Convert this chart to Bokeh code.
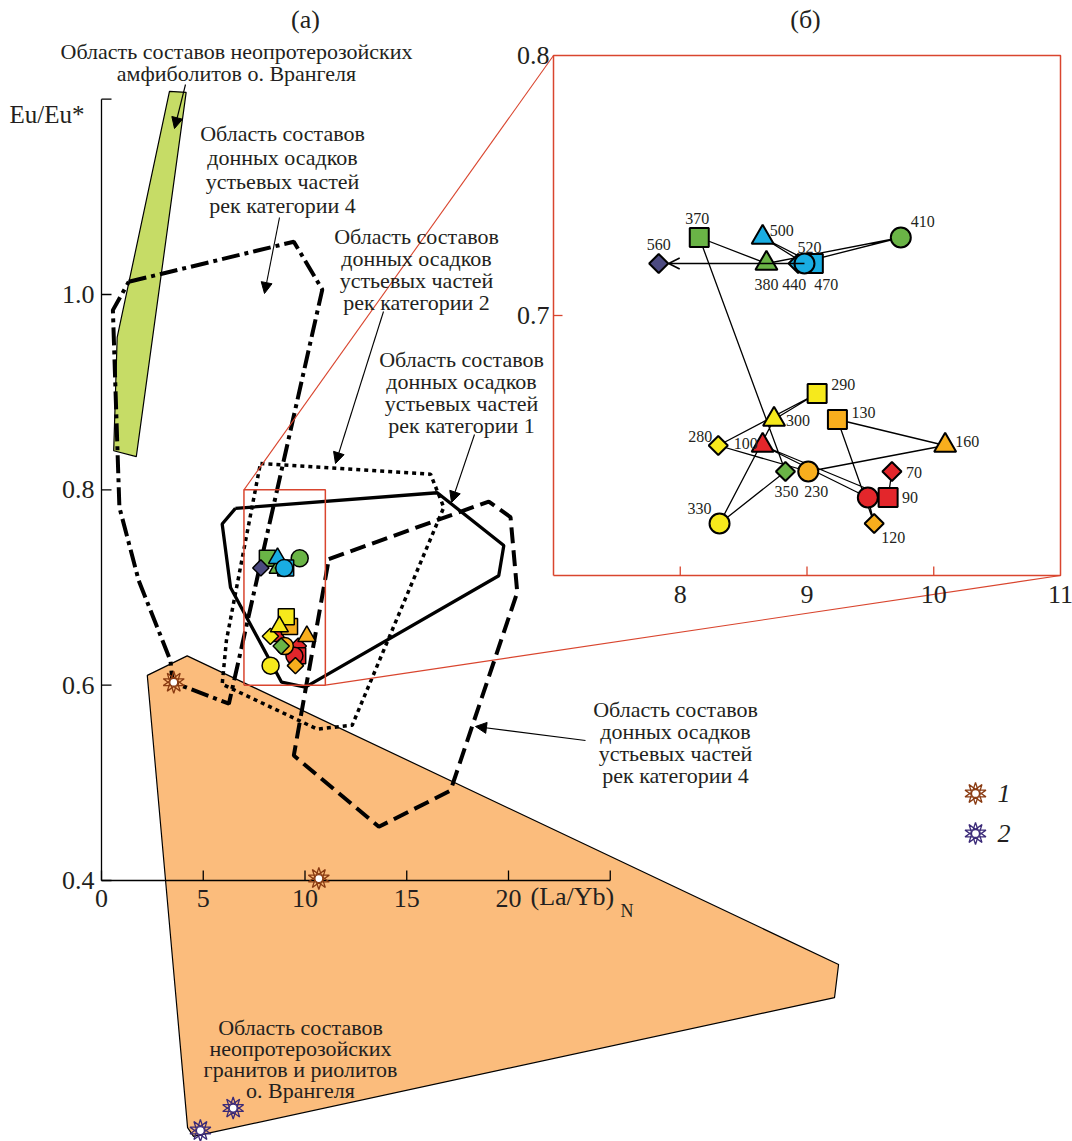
import numpy as np
from bokeh.plotting import figure
from bokeh.models import Range1d, ColumnDataSource, Arrow, NormalHead, OpenHead
from bokeh.embed import file_html
from bokeh.resources import INLINE
from bokeh.core.properties import value

# ---------------- data ----------------
sample_km = [70, 90, 100, 110, 120, 130, 160, 230, 280, 290, 300, 330,
             350, 370, 380, 410, 440, 470, 500, 520, 560]
point_labels = ["70", "90", "100", "", "120", "130", "160", "230", "280", "290", "300", "330",
                "350", "370", "380", "410", "440", "470", "500", "520", "560"]
la_yb_n = [9.67, 9.64, 8.65, 9.48, 9.53, 9.24, 10.09, 9.01, 8.30, 9.08, 8.74, 8.31,
           8.83, 8.15, 8.68, 9.74, 8.93, 9.05, 8.65, 8.98, 7.83]
eu_eu = [0.64, 0.63, 0.65, 0.63, 0.62, 0.66, 0.65, 0.64, 0.65, 0.67, 0.66, 0.62,
         0.64, 0.73, 0.72, 0.73, 0.72, 0.72, 0.73, 0.72, 0.72]
point_shape = ["diamond", "square", "triangle", "circle"] * 5 + ["diamond"]
point_group = ["red"] * 4 + ["orange"] * 4 + ["yellow"] * 4 + ["green"] * 4 + ["blue"] * 4 + ["purple"]

# region outlines (La/Yb)N, Eu/Eu*
amph_x = [3.34, 4.16, 1.71, 0.60, 0.77]
amph_y = [1.208, 1.207, 0.834, 0.840, 0.956]
granite_x = [2.25, 4.21, 36.22, 36.02, 4.52, 4.23]
granite_y = [0.610, 0.630, 0.314, 0.280, 0.138, 0.147]
cat4a_x = [1.34, 9.45, 10.85, 6.26, 3.49, 3.39, 1.83, 0.88, 0.77, 0.56]
cat4a_y = [1.013, 1.054, 1.005, 0.581, 0.603, 0.625, 0.707, 0.782, 0.850, 0.984]
cat2_x = [7.81, 16.17, 16.82, 12.32, 10.60, 5.93, 6.14]
cat2_y = [0.827, 0.816, 0.782, 0.559, 0.555, 0.601, 0.646]
cat1_x = [6.58, 16.50, 19.77, 19.52, 10.02, 8.85, 6.34, 5.93]
cat1_y = [0.781, 0.797, 0.743, 0.712, 0.598, 0.603, 0.700, 0.765]
cat4b_x = [11.17, 19.03, 20.10, 20.43, 17.15, 13.63, 9.45]
cat4b_y = [0.729, 0.788, 0.772, 0.695, 0.492, 0.455, 0.528]

# reference samples (legend 1 and 2)
ref1_x = [3.55, 10.68]
ref1_y = [0.603, 0.402]
ref2_x = [6.47, 4.86]
ref2_y = [0.167, 0.144]

main_xticks = [0, 5, 10, 15, 20, 25]
main_xticklabels = ["0", "5", "10", "15", "20", ""]
main_yticks = [0.4, 0.6, 0.8, 1.0, 1.2]
main_yticklabels = ["0.4", "0.6", "0.8", "1.0", ""]
inset_xticks = [8, 9, 10, 11]
inset_yticks = [0.7, 0.8]
zoom_box = (7.0, 11.0, 0.6, 0.8)

# ---------------- layout ----------------
W, H = 1072, 1141
M = 0  # picture origin = canvas origin
MX0, MXS = 101.0, 20.35      # px of x=0, px per unit
MY0, MYS = 880.0, 976.7      # py of y=0.4, px per unit
IX0, IXS = 553.0, 126.75     # px of inset x=7
IY0, IYS = 55.0, 2600.0      # py of inset y=0.8
FONT = "Liberation Serif"
TXT = "#231f20"

def px2x(px): return (px - MX0) / MXS
def py2y(py): return 0.4 + (MY0 - py) / MYS
def ipx2x(px): return 7.0 + (px - IX0) / IXS
def ipy2y(py): return 0.8 - (py - IY0) / IYS
def ix2px(x): return IX0 + (x - 7.0) * IXS
def iy2py(y): return IY0 + (0.8 - y) * IYS

colors = {"red": "#e3262b", "orange": "#f8ae1d", "yellow": "#f6e91c",
          "green": "#6ab446", "blue": "#19ade2", "purple": "#4c4a80"}

p = figure(width=W, height=H, output_backend="svg", toolbar_location=None,
           x_range=Range1d(px2x(M), px2x(M + W)), y_range=Range1d(py2y(M + H), py2y(M)),
           x_axis_location=None, y_axis_location=None, min_border=0,
           outline_line_color=None, background_fill_color="white")
p.min_border_left = p.min_border_right = p.min_border_top = p.min_border_bottom = 0
p.xgrid.grid_line_color = None
p.ygrid.grid_line_color = None
p.grid.visible = False
p.extra_x_ranges = {"ins": Range1d(ipx2x(M), ipx2x(M + W))}
p.extra_y_ranges = {"ins": Range1d(ipy2y(M + H), ipy2y(M))}

def closed(a):
    return list(a) + [a[0]]

# regions
p.patch(granite_x, granite_y, fill_color="#fbbc7c", line_color="black", line_width=1.2)
p.patch(amph_x, amph_y, fill_color="#c6dc66", line_color="black", line_width=1.2)
p.line(closed(cat4a_x), closed(cat4a_y), line_color="black", line_width=4, line_dash="18 5 4 5")
p.line(closed(cat2_x), closed(cat2_y), line_color="black", line_width=3.5, line_dash="4 4")
p.line(closed(cat1_x), closed(cat1_y), line_color="black", line_width=3.3)
p.line(closed(cat4b_x), closed(cat4b_y), line_color="black", line_width=4, line_dash="16 7")

# main axes (drawn at x=0 and y=0.4)
tick_len = 10
p.line([0, 0], [0.4, 1.2], line_color="black", line_width=1.3)
p.line([0, 25], [0.4, 0.4], line_color="black", line_width=1.3)
p.segment(x0=[0] * len(main_yticks), y0=main_yticks, x1=[tick_len / MXS] * len(main_yticks),
          y1=main_yticks, line_color="black", line_width=1.3)
p.segment(x0=main_xticks, y0=[0.4] * len(main_xticks), x1=main_xticks,
          y1=[0.4 + tick_len / MYS] * len(main_xticks), line_color="black", line_width=1.3)
p.text(x=main_xticks, y=[py2y(898)] * len(main_xticks), text=main_xticklabels,
       text_font=value(FONT), text_font_size="26px", text_align="center",
       text_baseline="middle", text_color=TXT)
p.text(x=[px2x(94)] * len(main_yticks), y=main_yticks, text=main_yticklabels,
       text_font=value(FONT), text_font_size="26px", text_align="right",
       text_baseline="middle", text_color=TXT)
p.text(x=[px2x(9)], y=[py2y(114)], text=["Eu/Eu*"], text_font=value(FONT),
       text_font_size="25px", text_align="left", text_baseline="middle", text_color=TXT)
p.text(x=[px2x(530)], y=[py2y(896)], text=["(La/Yb)"], text_font=value(FONT),
       text_font_size="26px", text_align="left", text_baseline="middle", text_color=TXT)
p.text(x=[px2x(620)], y=[py2y(910)], text=["N"], text_font=value(FONT),
       text_font_size="18px", text_align="left", text_baseline="middle", text_color=TXT)

# reference samples as outlined stars
def star(xs, ys, col):
    for ang in (0, np.pi):
        p.scatter(xs, ys, marker="star", size=22, angle=ang, fill_color=None,
                  line_color=col, line_width=1.3)
    p.scatter(xs, ys, marker="circle", size=8, fill_color="white", line_color=col, line_width=1.3)

star(ref1_x, ref1_y, "#8a3b12")
star(ref2_x, ref2_y, "#3b2a78")

# zoom box on main plot
zx0, zx1, zy0, zy1 = zoom_box
red = "#d9452e"
p.line([zx0, zx1, zx1, zx0, zx0], [zy0, zy0, zy1, zy1, zy0], line_color=red, line_width=1.5)
# connectors from zoom box to inset frame
p.segment(x0=[zx0, zx1], y0=[zy1, zy0],
          x1=[px2x(ix2px(zx0)), px2x(ix2px(zx1))], y1=[py2y(iy2py(zy1)), py2y(iy2py(zy0))],
          line_color=red, line_width=1.1)

# samples on main plot
shape_map = {"diamond": ("square", np.pi / 4), "square": ("square", 0.0),
             "triangle": ("triangle", 0.0), "circle": ("circle", 0.0)}
main_size = {"diamond": 11.5, "square": 16, "triangle": 18, "circle": 17}
ins_size = {"diamond": 13.5, "square": 19, "triangle": 22, "circle": 20}
src = ColumnDataSource(dict(
    x=la_yb_n, y=eu_eu, lab=point_labels,
    mk=[shape_map[s][0] for s in point_shape], ang=[shape_map[s][1] for s in point_shape],
    col=[colors[g] for g in point_group],
    msz=[main_size[s] for s in point_shape], isz=[ins_size[s] for s in point_shape]))
p.scatter(x="x", y="y", marker="mk", angle="ang", size="msz", fill_color="col",
          line_color="black", line_width=1.5, source=src)

# ---------------- inset (б) ----------------
p.line([7, 11, 11, 7, 7], [0.6, 0.6, 0.8, 0.8, 0.6], line_color=red, line_width=1.5,
       x_range_name="ins", y_range_name="ins")
p.segment(x0=inset_xticks[:-1], y0=[0.6] * 3, x1=inset_xticks[:-1], y1=[0.6 + 9 / IYS] * 3,
          line_color=red, line_width=1.3, x_range_name="ins", y_range_name="ins")
p.segment(x0=[7], y0=[0.7], x1=[7 + 9 / IXS], y1=[0.7], line_color=red, line_width=1.3,
          x_range_name="ins", y_range_name="ins")
p.text(x=inset_xticks, y=[ipy2y(594)] * 4, text=[str(v) for v in inset_xticks],
       text_font=value(FONT), text_font_size="26px", text_align="center",
       text_baseline="middle", text_color=TXT, x_range_name="ins", y_range_name="ins")
p.text(x=[ipx2x(549)] * 2, y=inset_yticks, text=["0.7", "0.8"],
       text_font=value(FONT), text_font_size="26px", text_align="right",
       text_baseline="middle", text_color=TXT, x_range_name="ins", y_range_name="ins")

# path of consecutive samples
p.line(la_yb_n[:-1], eu_eu[:-1], line_color="black", line_width=1.3,
       x_range_name="ins", y_range_name="ins")
ax0, ay0 = ix2px(la_yb_n[-2]), iy2py(eu_eu[-2])
ax1, ay1 = ix2px(la_yb_n[-1]) + 10, iy2py(eu_eu[-1])
p.add_layout(Arrow(end=OpenHead(size=11, line_width=1.6, line_color="black"),
                   x_start=px2x(ax0), y_start=py2y(ay0), x_end=px2x(ax1), y_end=py2y(ay1),
                   line_color="black", line_width=1.3))

p.scatter(x="x", y="y", marker="mk", angle="ang", size="isz", fill_color="col",
          line_color="black", line_width=2, source=src, x_range_name="ins", y_range_name="ins")

lab_dx = [22, 22, -17, 0, 19, 26, 22, 8, -18, 26, 24, -20, 1, -2, 0, 22, -4, 13, 19, 5, 0]
lab_dy = [1, 0, -2, 0, 14, -7, -4, 20, -9, -9, 1, -15, 20, -19, 21, -16, 21, 21, -7, -16, -19]
src_lab = ColumnDataSource(dict(x=la_yb_n, y=eu_eu, lab=point_labels, dx=lab_dx, dy=lab_dy))
p.text(x="x", y="y", text="lab", x_offset="dx", y_offset="dy", source=src_lab,
       text_font=value(FONT), text_font_size="16px", text_align="center",
       text_baseline="middle", text_color=TXT, x_range_name="ins", y_range_name="ins")

# ---------------- annotations ----------------
def block(lines, cx, top, step=22, size=22):
    p.text(x=[px2x(cx)] * len(lines), y=[py2y(top + i * step) for i in range(len(lines))],
           text=lines, text_font=value(FONT), text_font_size=f"{size}px",
           text_align="center", text_baseline="middle", text_color=TXT)

block(["(а)"], 305, 19, size=26)
block(["(б)"], 805, 19, size=26)
block(["Область составов неопротерозойских", "амфиболитов о. Врангеля"], 236, 51)
block(["Область составов", "донных осадков", "устьевых частей", "рек категории 4"], 282, 133, step=24)
block(["Область составов", "донных осадков", "устьевых частей", "рек категории 2"], 416, 236)
block(["Область составов", "донных осадков", "устьевых частей", "рек категории 1"], 461, 359)
block(["Область составов", "донных осадков", "устьевых частей", "рек категории 4"], 675, 709)
block(["Область составов", "неопротерозойских", "гранитов и риолитов", "о. Врангеля"], 300, 1027, step=21)

arrows = [((185, 84), (174, 128)), ((279, 217), (264, 293)), ((383, 311), (335, 463)),
          ((474, 434), (451, 502)), ((585, 740), (475, 726))]
for (sx, sy), (ex, ey) in arrows:
    p.add_layout(Arrow(end=NormalHead(size=11, fill_color="black", line_color="black", line_width=1),
                       x_start=px2x(sx), y_start=py2y(sy), x_end=px2x(ex), y_end=py2y(ey),
                       line_color="black", line_width=1.1))

# legend
star([px2x(975)], [py2y(793)], "#8a3b12")
star([px2x(975)], [py2y(833)], "#3b2a78")
p.text(x=[px2x(997)] * 2, y=[py2y(793), py2y(833)], text=["1", "2"], text_font=value(FONT),
       text_font_style="italic", text_font_size="26px", text_align="left",
       text_baseline="middle", text_color=TXT)

open("out.html", "w").write(file_html(p, INLINE))
